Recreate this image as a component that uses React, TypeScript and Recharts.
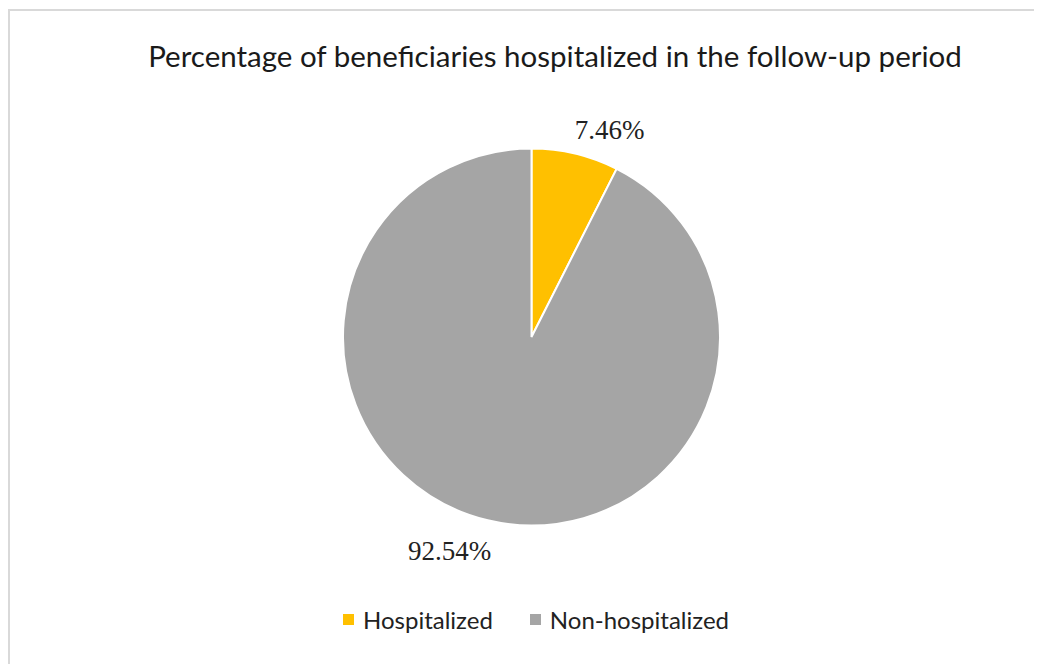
import { PieChart, Pie, Cell, Legend } from 'recharts';

const CATEGORIES = ['Hospitalized', 'Non-hospitalized'];
const VALUES = [7.46, 92.54];
const COLORS = ['#ffc000', '#a5a5a5'];

const TITLE = 'Percentage of beneficiaries hospitalized in the follow-up period';

const data = CATEGORIES.map((name, i) => ({ name, value: VALUES[i] }));

// Excel "best fit" label placement: extra radius and angle shift per slice
const LABEL_NUDGE = [
  { dr: 33, da: -7.2 },
  { dr: 41, da: -7.5 },
];

const RAD = Math.PI / 180;

function renderLabel(props: any) {
  const { cx, cy, midAngle, outerRadius, index, value } = props;
  const n = LABEL_NUDGE[index] || { dr: 24, da: 0 };
  const r = outerRadius + n.dr;
  const a = (midAngle + n.da) * RAD;
  const x = cx + r * Math.cos(a);
  const y = cy - r * Math.sin(a);
  return (
    <text
      x={x}
      y={y}
      textAnchor="middle"
      dominantBaseline="central"
      fill="#222"
      style={{ fontFamily: '"Liberation Serif", serif', fontSize: 27 }}
    >
      {`${Number(value).toFixed(2)}%`}
    </text>
  );
}

function LegendContent() {
  return (
    <div style={{ display: 'flex', justifyContent: 'center', gap: 37, fontFamily: 'Lato, sans-serif', fontSize: 24, lineHeight: '29px', color: '#222' }}>
      {CATEGORIES.map((c, i) => (
        <div key={c} style={{ display: 'flex', alignItems: 'center', gap: 9 }}>
          <div style={{ width: 11, height: 11, background: COLORS[i] }} />
          <span>{c}</span>
        </div>
      ))}
    </div>
  );
}

export default function App() {
  return (
    <div
      style={{
        position: 'relative',
        top: 1,
        width: 1040,
        height: 660,
        borderTop: '2px solid #d9d9d9',
        borderLeft: '2px solid #d9d9d9',
        background: '#fff',
        overflow: 'hidden',
      }}
    >
      <div
        style={{
          position: 'absolute',
          left: 0,
          width: 1090,
          top: 27,
          lineHeight: '36px',
          textAlign: 'center',
          fontFamily: 'Lato, sans-serif',
          fontSize: 29.5,
          color: '#1a1a1a',
          zIndex: 1,
        }}
      >
        {TITLE}
      </div>
      <PieChart width={1040} height={652}>
        <Pie
          data={data}
          dataKey="value"
          nameKey="name"
          cx={516.5}
          cy={321}
          outerRadius={188.5}
          startAngle={90}
          endAngle={-270}
          stroke="#fff"
          strokeWidth={2}
          label={renderLabel}
          labelLine={false}
          isAnimationActive={false}
        >
          {data.map((_, i) => (
            <Cell key={i} fill={COLORS[i]} />
          ))}
        </Pie>
        <Legend
          content={<LegendContent />}
          wrapperStyle={{ left: 6, width: 1040, top: 594 }}
        />
      </PieChart>
    </div>
  );
}
